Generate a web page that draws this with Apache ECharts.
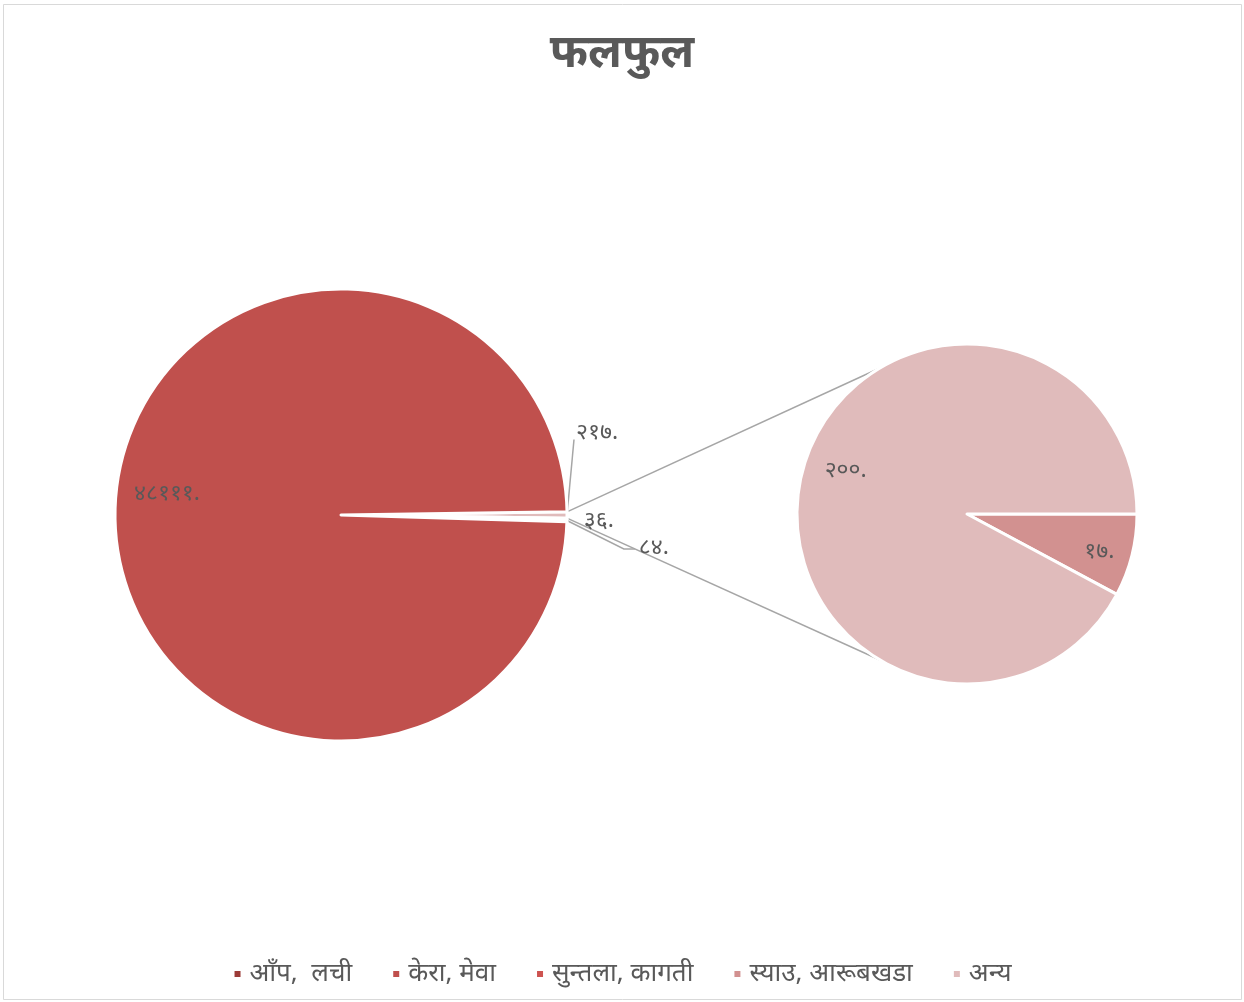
<!DOCTYPE html>
<html>
<head>
<meta charset="utf-8">
<script src="https://cdn.jsdelivr.net/npm/echarts@6/dist/echarts.min.js"></script>
<style>
html,body{margin:0;padding:0;background:#fff;}
#c{width:1244px;height:1002px;}
</style>
</head>
<body>
<div id="c"></div>
<script>
// ---- data ----
var title = 'फलफुल';
var categories = ['आँप,  लची', 'केरा, मेवा', 'सुन्तला, कागती', 'स्याउ, आरूबखडा', 'अन्य'];
var values = [36, 48111, 84, 17, 200];
var colors = ['#9C3B38', '#C0504D', '#CD5350', '#D29190', '#E0BBBB'];
var otherName = 'अन्य (जम्मा)';
// indices shown in the secondary pie
var secondaryIdx = [3, 4];
var primaryIdx = [0, 2, 1];

var devDigits = '०१२३४५६७८९';
function toDev(n) {
  return String(n).replace(/[0-9]/g, function (d) { return devDigits[+d]; }) + '.';
}

var otherValue = secondaryIdx.reduce(function (s, i) { return s + values[i]; }, 0);
var mainValues = [otherValue].concat(primaryIdx.map(function (i) { return values[i]; }));
var mainTotal = mainValues.reduce(function (s, v) { return s + v; }, 0);
var otherAngle = otherValue / mainTotal * 360;

var mainCenter = [341, 515], mainR = 226;
var secCenter = [967, 514], secR = 170;

var font = "'Noto Sans', 'Noto Sans Devanagari', sans-serif";
var textColor = '#595959';
var lineColor = '#A6A6A6';

// mid angle (degrees, math convention) of each main slice
var midAngles = [];
(function () {
  var acc = otherAngle / 2;
  mainValues.forEach(function (v) {
    var span = v / mainTotal * 360;
    midAngles.push(acc - span / 2);
    acc -= span;
  });
})();
function edgePoint(deg) {
  var r = deg * Math.PI / 180;
  return [mainCenter[0] + mainR * Math.cos(r), mainCenter[1] - mainR * Math.sin(r)];
}

var mainData = [{
  name: otherName, value: otherValue,
  itemStyle: { color: colors[4] }
}];
primaryIdx.forEach(function (i) {
  var item = { name: categories[i], value: values[i], itemStyle: { color: colors[i] } };
  if (i === 1) {
    item.label = { position: 'inside', offset: [-58, -21] };
    item.labelLine = { show: false };
  }
  mainData.push(item);
});

var secData = [
  { name: categories[3], value: values[3], itemStyle: { color: colors[3] }, label: { offset: [47, 16] } },
  { name: categories[4], value: values[4], itemStyle: { color: colors[4] }, label: { offset: [-36, -22] } }
];

// label nudges for the crowded small slices of the main pie (dataIndex -> [dx, dy])
var smallLabelShift = { 0: [-23, -83], 1: [-14, -20], 2: [45, -18] };

// connector lines from the "other" slice edges to the secondary pie
var a1 = otherAngle / 2 * Math.PI / 180;
var tang = 121 * Math.PI / 180;
var p1 = [mainCenter[0] + mainR * Math.cos(a1), mainCenter[1] - mainR * Math.sin(a1)];
var p2 = [mainCenter[0] + mainR * Math.cos(a1), mainCenter[1] + mainR * Math.sin(a1)];
var q1 = [secCenter[0] + secR * Math.cos(tang), secCenter[1] - secR * Math.sin(tang)];
var q2 = [secCenter[0] + secR * Math.cos(tang), secCenter[1] + secR * Math.sin(tang)];

var chart = echarts.init(document.getElementById('c'), null, { renderer: 'canvas' });
chart.setOption({
  backgroundColor: '#fff',
  animation: false,
  title: {
    text: title, left: 'center', top: 26,
    textStyle: { fontFamily: font, fontSize: 46, fontWeight: 'bold', color: textColor }
  },
  legend: {
    data: categories,
    bottom: 10, left: 'center',
    icon: 'rect', itemWidth: 8, itemHeight: 8, itemGap: 39,
    textStyle: { fontFamily: font, fontSize: 26, color: textColor, padding: [0, 0, 0, 3] }
  },
  graphic: [
    { type: 'rect', shape: { x: 3.5, y: 4.5, width: 1238, height: 995 }, style: { fill: null, stroke: '#D9D9D9', lineWidth: 1 }, z: -1 },
    { type: 'line', shape: { x1: p1[0], y1: p1[1], x2: q1[0], y2: q1[1] }, style: { stroke: lineColor, lineWidth: 1.5 }, z: 0 },
    { type: 'line', shape: { x1: p2[0], y1: p2[1], x2: q2[0], y2: q2[1] }, style: { stroke: lineColor, lineWidth: 1.5 }, z: 0 }
  ],
  series: [
    {
      type: 'pie', name: 'main',
      center: mainCenter, radius: [0, mainR],
      startAngle: otherAngle / 2, clockwise: true,
      minAngle: 0, avoidLabelOverlap: true,
      itemStyle: { borderColor: '#fff', borderWidth: 3 },
      label: {
        show: true, position: 'outside', fontFamily: font, fontSize: 23, color: textColor,
        formatter: function (p) { return toDev(p.value); }
      },
      labelLine: { show: true, length: 20, length2: 12, lineStyle: { color: lineColor, width: 1.5 } },
      labelLayout: function (p) {
        var s = smallLabelShift[p.dataIndex];
        if (p.seriesIndex !== 0 || !s) { return {}; }
        var r = p.labelRect;
        var x = r.x + s[0], y = r.y + s[1], h = r.height;
        var e = edgePoint(midAngles[p.dataIndex]);
        var pts;
        if (p.dataIndex === 0) {
          pts = [e, [x - 2, y + h - 4], [x - 2, y + h - 4]];
        } else if (p.dataIndex === 1) {
          pts = [e, e, e];
        } else {
          pts = [e, [x - 15, y + h / 2 + 2], [x - 4, y + h / 2 + 2]];
        }
        return { dx: s[0], dy: s[1], labelLinePoints: pts };
      },
      emphasis: { disabled: true },
      data: mainData
    },
    {
      type: 'pie', name: 'secondary',
      center: secCenter, radius: [0, secR],
      startAngle: 0, clockwise: true,
      itemStyle: { borderColor: '#fff', borderWidth: 3 },
      label: {
        show: true, position: 'inside', fontFamily: font, fontSize: 23, color: textColor,
        formatter: function (p) { return toDev(p.value); }
      },
      labelLine: { show: false },
      emphasis: { disabled: true },
      data: secData
    }
  ]
});
</script>
</body>
</html>
